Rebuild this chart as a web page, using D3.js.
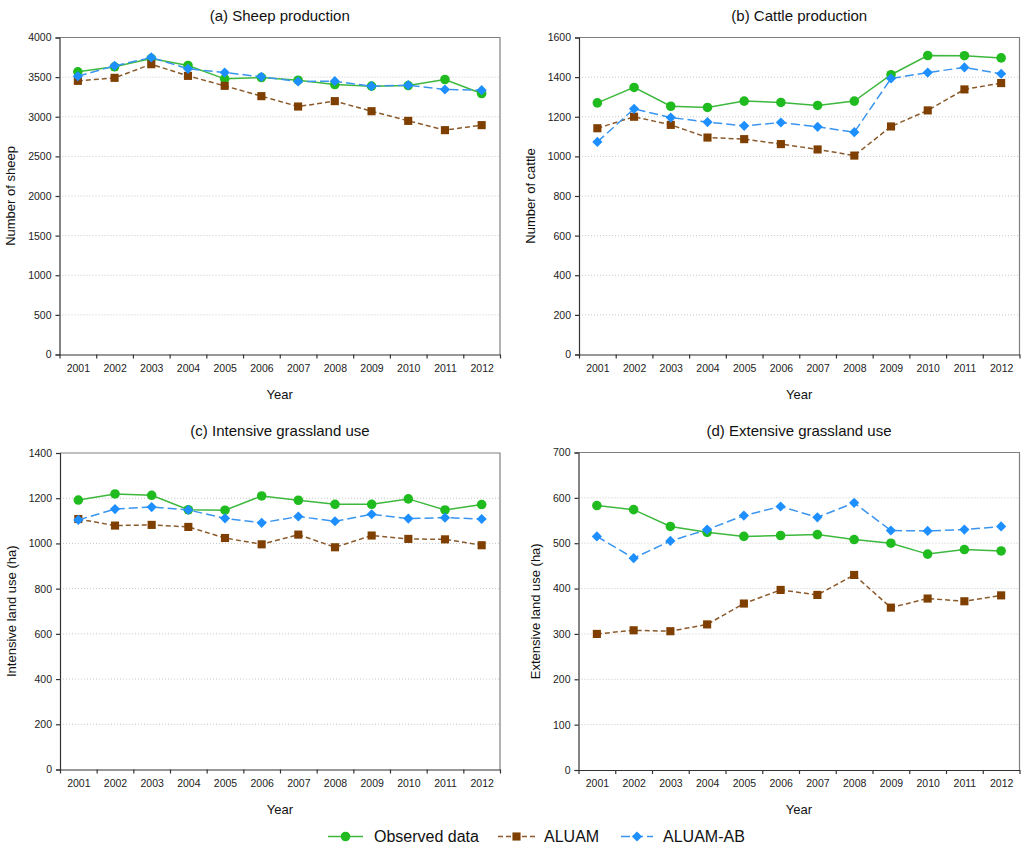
<!DOCTYPE html>
<html>
<head>
<meta charset="utf-8">
<script src="https://cdn.jsdelivr.net/npm/d3@7"></script>
<style>
  body { margin: 0; background: #fff; }
  svg { display: block; font-family: Arial, "Liberation Sans", sans-serif; }
</style>
</head>
<body>
<svg id="chart" width="1024" height="852"></svg>
<script>
// data
var years = [2001, 2002, 2003, 2004, 2005, 2006, 2007, 2008, 2009, 2010, 2011, 2012];
var seriesNames = ["Observed data", "ALUAM", "ALUAM-AB"];

var sheepObserved = [3567, 3630, 3735, 3647, 3478, 3495, 3461, 3407, 3386, 3394, 3470, 3293];
var sheepAluam    = [3453, 3491, 3663, 3516, 3390, 3260, 3129, 3197, 3070, 2948, 2831, 2894];
var sheepAluamAB  = [3512, 3642, 3748, 3605, 3558, 3504, 3445, 3449, 3386, 3398, 3344, 3335];

var cattleObserved = [1270, 1348, 1253, 1247, 1279, 1272, 1257, 1279, 1412, 1509, 1508, 1497];
var cattleAluam    = [1142, 1200, 1159, 1095, 1087, 1062, 1035, 1004, 1151, 1232, 1338, 1370];
var cattleAluamAB  = [1073, 1240, 1196, 1173, 1154, 1171, 1149, 1122, 1393, 1423, 1449, 1417];

var intensiveObserved = [1192, 1219, 1213, 1149, 1147, 1210, 1191, 1173, 1173, 1197, 1148, 1172];
var intensiveAluam    = [1108, 1079, 1082, 1073, 1024, 996, 1039, 983, 1035, 1020, 1018, 992];
var intensiveAluamAB  = [1104, 1152, 1161, 1148, 1111, 1091, 1119, 1098, 1129, 1110, 1114, 1108];

var extensiveObserved = [583, 574, 537, 524, 515, 517, 519, 508, 500, 476, 486, 483];
var extensiveAluam    = [300, 308, 306, 321, 367, 397, 386, 430, 358, 378, 372, 385];
var extensiveAluamAB  = [515, 467, 505, 530, 561, 581, 557, 589, 528, 527, 530, 537];

var panelTitles = ["(a) Sheep production", "(b) Cattle production", "(c) Intensive grassland use", "(d) Extensive grassland use"];
var yLabels = ["Number of sheep", "Number of cattle", "Intensive land use (ha)", "Extensive land use (ha)"];
var yMax = [4000, 1600, 1400, 700];
var yStep = [500, 200, 200, 100];

var panelData = [
    [sheepObserved, sheepAluam, sheepAluamAB],
    [cattleObserved, cattleAluam, cattleAluamAB],
    [intensiveObserved, intensiveAluam, intensiveAluamAB],
    [extensiveObserved, extensiveAluam, extensiveAluamAB]
];

// plot boxes [left, top, right, bottom] and y-label offset
var boxes = [
    [59.5, 37.5, 500, 354.5],
    [579, 37.5, 1019.5, 354.5],
    [60, 453, 500, 769.5],
    [578.5, 452.5, 1019.5, 770]
];
var yLabelOffset = [49, 49, 49, 43];

var markerFill = ["#1fbb1f", "#7f3f00", "#1e8fff"];
var lineColor = ["#3cb83c", "#8b5a2b", "#3a95f0"];
var dashes = [null, "5,3", "9,4"];
var symbols = [d3.symbolCircle, d3.symbolSquare, d3.symbolSquare];
var symbolSize = [72, 66, 52];
var symbolRotate = [0, 0, 45];

function marker(sel, s) {
    return sel.attr("d", d3.symbol().type(symbols[s]).size(symbolSize[s]))
        .attr("fill", markerFill[s]);
}

var svg = d3.select("#chart");

panelData.forEach(function (series, p) {
    var b = boxes[p];
    var x = d3.scaleLinear().domain([2000.5, 2012.5]).range([b[0], b[2]]);
    var y = d3.scaleLinear().domain([0, yMax[p]]).range([b[3], b[1]]);
    var yTicks = d3.range(0, yMax[p] + 1, yStep[p]);

    var g = svg.append("g");

    // dotted grid
    g.append("g")
        .selectAll("line")
        .data(yTicks.filter(function (t) { return t > 0 && t < yMax[p]; }))
        .join("line")
        .attr("x1", b[0]).attr("x2", b[2])
        .attr("y1", function (d) { return y(d); })
        .attr("y2", function (d) { return y(d); })
        .attr("stroke", "#c8c8c8")
        .attr("stroke-dasharray", "1,2");

    // top / right frame
    g.append("path")
        .attr("d", "M" + b[0] + "," + b[1] + "H" + b[2] + "V" + b[3])
        .attr("fill", "none")
        .attr("stroke", "#808080")
        .attr("stroke-width", 1.2);

    // y axis
    g.append("g")
        .attr("transform", "translate(" + b[0] + ",0)")
        .call(d3.axisLeft(y).tickValues(yTicks).tickSize(4).tickPadding(4).tickFormat(d3.format("d")))
        .call(function (a) {
            a.selectAll("path, line").attr("stroke", "#333").attr("stroke-width", 1.2);
            a.selectAll("text").attr("font-size", "10.5px").attr("fill", "#222")
                .attr("font-family", "Arial, 'Liberation Sans', sans-serif");
        });

    // x axis: ticks between years
    g.append("g")
        .attr("transform", "translate(0," + b[3] + ")")
        .call(d3.axisBottom(x).tickValues(d3.range(2000.5, 2013, 1)).tickSize(4).tickSizeOuter(0).tickFormat(""))
        .call(function (a) {
            a.selectAll("path, line").attr("stroke", "#333").attr("stroke-width", 1.2);
        });

    // x labels centred on years
    g.append("g")
        .attr("transform", "translate(0," + b[3] + ")")
        .call(d3.axisBottom(x).tickValues(years).tickSize(0).tickPadding(10).tickFormat(d3.format("d")))
        .call(function (a) {
            a.select(".domain").remove();
            a.selectAll("text").attr("font-size", "10.5px").attr("fill", "#222")
                .attr("font-family", "Arial, 'Liberation Sans', sans-serif");
        });

    // titles
    g.append("text")
        .attr("x", (b[0] + b[2]) / 2)
        .attr("y", b[1] - 17)
        .attr("text-anchor", "middle")
        .attr("font-size", "15px")
        .attr("fill", "#111")
        .text(panelTitles[p]);

    g.append("text")
        .attr("x", (b[0] + b[2]) / 2)
        .attr("y", b[3] + 44)
        .attr("text-anchor", "middle")
        .attr("font-size", "13px")
        .attr("fill", "#111")
        .text("Year");

    g.append("text")
        .attr("transform", "translate(" + (b[0] - yLabelOffset[p]) + "," + ((b[1] + b[3]) / 2) + ") rotate(-90)")
        .attr("dy", "0.35em")
        .attr("text-anchor", "middle")
        .attr("font-size", "13px")
        .attr("fill", "#111")
        .text(yLabels[p]);

    // series lines and markers
    series.forEach(function (values, s) {
        var line = d3.line()
            .x(function (d, i) { return x(years[i]); })
            .y(function (d) { return y(d); });

        g.append("path")
            .datum(values)
            .attr("d", line)
            .attr("fill", "none")
            .attr("stroke", lineColor[s])
            .attr("stroke-width", 1.5)
            .attr("stroke-dasharray", dashes[s]);

        g.append("g")
            .selectAll("path")
            .data(values)
            .join("path")
            .attr("transform", function (d, i) {
                return "translate(" + x(years[i]) + "," + y(d) + ") rotate(" + symbolRotate[s] + ")";
            })
            .call(marker, s);
    });
});

// legend
var legendX = [328, 498, 621];
var legendLen = [35, 37, 32];
var legendGap = [11, 9, 10];
var legendY = 836.5;

var legend = svg.append("g");
seriesNames.forEach(function (name, s) {
    var lg = legend.append("g").attr("transform", "translate(" + legendX[s] + "," + legendY + ")");
    lg.append("line")
        .attr("x1", 0).attr("x2", legendLen[s])
        .attr("stroke", lineColor[s])
        .attr("stroke-width", 1.5)
        .attr("stroke-dasharray", dashes[s]);
    lg.append("path")
        .attr("transform", "translate(" + (legendLen[s] / 2) + ",0) rotate(" + symbolRotate[s] + ")")
        .call(marker, s);
    lg.append("text")
        .attr("x", legendLen[s] + legendGap[s])
        .attr("dy", "0.35em")
        .attr("font-size", "16px")
        .attr("fill", "#111")
        .text(name);
});
</script>
</body>
</html>
